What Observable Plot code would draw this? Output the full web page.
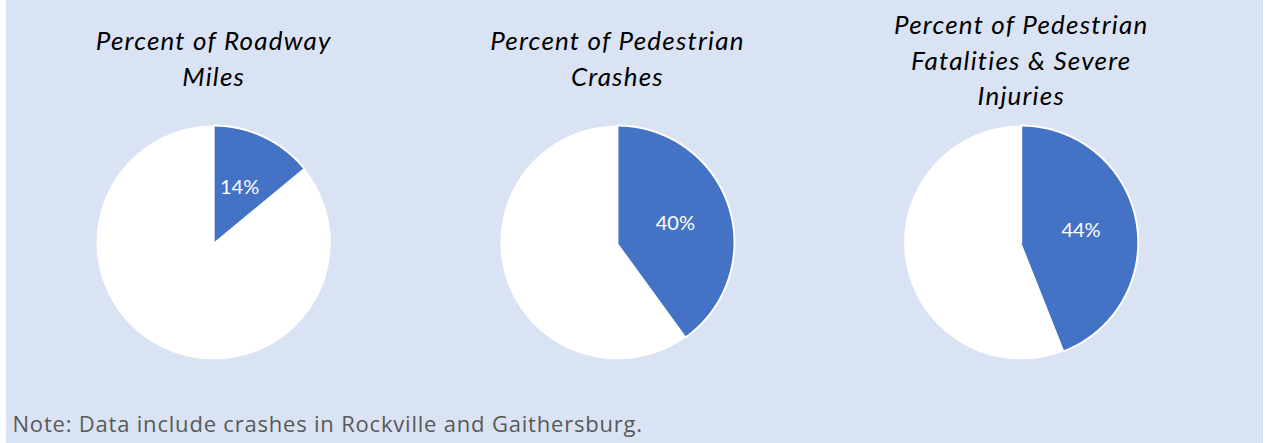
<!DOCTYPE html>
<html>
<head>
<meta charset="utf-8">
<script src="https://cdn.jsdelivr.net/npm/d3@7"></script>
<script src="https://cdn.jsdelivr.net/npm/@observablehq/plot@0.6"></script>
<style>
  html, body { margin: 0; padding: 0; background: #ffffff; }
  #panel { position: absolute; left: 6px; top: 0; width: 1257px; height: 443px; background: #dae3f3; overflow: hidden; }
  #panel g[font-style="italic"] { letter-spacing: 1.2px; }
  #panel g[font-family="Open Sans"] { letter-spacing: 0.8px; }
</style>
</head>
<body>
<div id="panel"></div>
<script>
// ---- data ----
const titles = [
  "Percent of Roadway\nMiles",
  "Percent of Pedestrian\nCrashes",
  "Percent of Pedestrian\nFatalities & Severe\nInjuries"
];
const shares = [14, 40, 44];            // blue slice, percent
const shareLabels = ["14%", "40%", "44%"];
const note = "Note: Data include crashes in Rockville and Gaithersburg.";

// ---- layout (in pie-radius units) ----
const layout = {
  width: 1257, height: 443,
  spacing: 3.45,                 // distance between pie centres
  xDomain: [-1.77, 8.97],
  yDomain: [-1.72, 2.07],
  titleTop: [1.86, 1.86, 2.0],   // top of title block
  labelDist: 0.52
};
const blue = "#4472c4";

// build slice polygons from the shares
function slicePoints(i, from, to, part) {
  const cx = i * layout.spacing;
  const pts = [{pie: i, part, x: cx, y: 0}];
  const a0 = from / 100 * 2 * Math.PI, a1 = to / 100 * 2 * Math.PI;
  const n = Math.max(2, Math.ceil((a1 - a0) / (Math.PI / 360)));
  for (let k = 0; k <= n; ++k) {
    const a = a0 + (a1 - a0) * k / n;
    pts.push({pie: i, part, x: cx + Math.sin(a), y: Math.cos(a)});
  }
  return pts;
}
const bluePts = shares.flatMap((s, i) => slicePoints(i, 0, s, "share"));
const restPts = shares.flatMap((s, i) => slicePoints(i, s, 100, "rest"));

const labelData = shares.map((s, i) => {
  const a = (s / 2) / 100 * 2 * Math.PI;
  return {x: i * layout.spacing + layout.labelDist * Math.sin(a), y: layout.labelDist * Math.cos(a), text: shareLabels[i]};
});
const titleData = titles.map((t, i) => ({x: i * layout.spacing, y: layout.titleTop[i], text: t}));

const chart = Plot.plot({
  width: layout.width,
  height: layout.height,
  margin: 0,
  x: {domain: layout.xDomain, axis: null},
  y: {domain: layout.yDomain, axis: null},
  style: {background: "none", overflow: "visible"},
  marks: [
    Plot.line(restPts, {x: "x", y: "y", z: "pie", fill: "white", stroke: "none", curve: "linear"}),
    Plot.line(bluePts, {x: "x", y: "y", z: "pie", fill: blue, stroke: "white", strokeWidth: 2, strokeLinejoin: "round", curve: "linear"}),
    Plot.text(labelData, {x: "x", y: "y", text: "text", fill: "white", fontSize: 20, fontFamily: "Lato"}),
    Plot.text(titleData, {x: "x", y: "y", text: "text", lineAnchor: "top", lineHeight: 1.37, fontSize: 26, fontStyle: "italic", fontFamily: "Lato", fill: "#000"}),
    Plot.text([note], {text: d => d, frameAnchor: "bottom-left", lineAnchor: "bottom", dx: 6, dy: -12, fontSize: 22, fontFamily: "Open Sans", fill: "#595959", textAnchor: "start"})
  ]
});
document.getElementById("panel").appendChild(chart);
</script>
</body>
</html>
